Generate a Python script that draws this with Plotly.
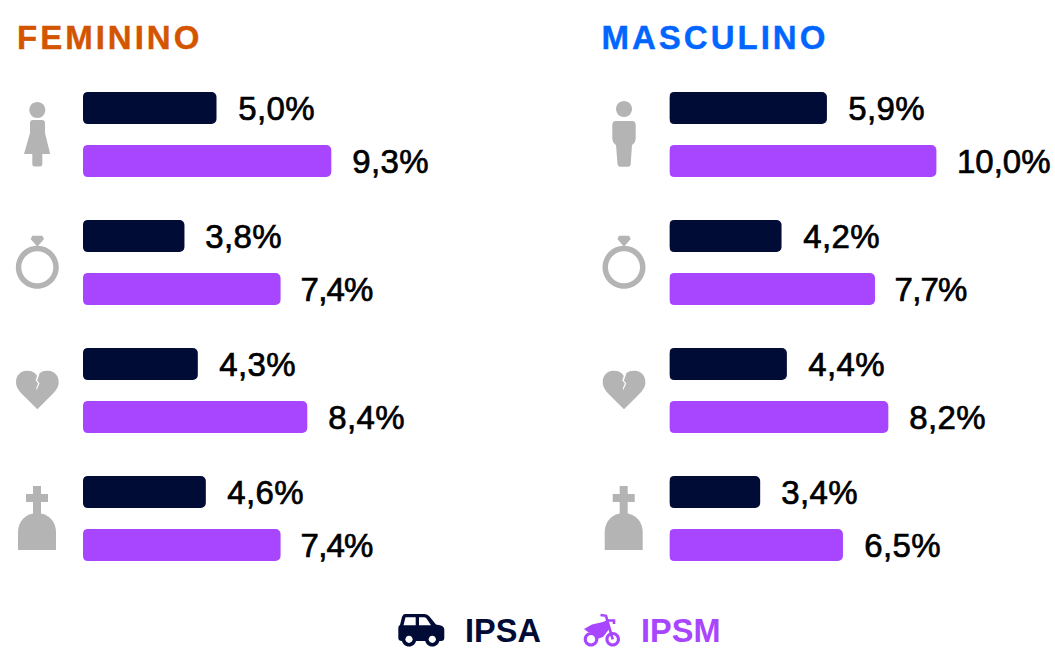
import re
import plotly.graph_objects as go

W, H = 1055, 649
categories = ["solteiro", "casado", "divorciado", "viuvo"]
fem_ipsa = [5.0, 3.8, 4.3, 4.6]
fem_ipsm = [9.3, 7.4, 8.4, 7.4]
masc_ipsa = [5.9, 4.2, 4.4, 3.4]
masc_ipsm = [10.0, 7.7, 8.2, 6.5]
panel_titles = ["FEMININO", "MASCULINO"]
series_names = ["IPSA", "IPSM"]

DARK = "#000B36"
PURPLE = "#A846FF"
GRAY = "#B4B4B4"
ORANGE = "#D45500"
BLUE = "#0066FF"
FONT = "Liberation Sans"

def fmt(v):
    return f"{v:.1f}".replace(".", ",") + "%"

def to_paper(path):
    toks = re.findall(r"-?\d+\.?\d*|[A-Za-z]", path)
    out, is_x = [], True
    for t in toks:
        if t.isalpha():
            out.append(t)
            is_x = True
        else:
            v = float(t)
            out.append(f"{v / W:.5f}" if is_x else f"{1 - v / H:.5f}")
            is_x = not is_x
    return " ".join(out)

def circle(cx, cy, r, ccw=False):
    k = 0.5523 * r
    if not ccw:
        return (f"M {cx+r} {cy} C {cx+r} {cy+k} {cx+k} {cy+r} {cx} {cy+r} "
                f"C {cx-k} {cy+r} {cx-r} {cy+k} {cx-r} {cy} "
                f"C {cx-r} {cy-k} {cx-k} {cy-r} {cx} {cy-r} "
                f"C {cx+k} {cy-r} {cx+r} {cy-k} {cx+r} {cy} Z ")
    return (f"M {cx+r} {cy} C {cx+r} {cy-k} {cx+k} {cy-r} {cx} {cy-r} "
            f"C {cx-k} {cy-r} {cx-r} {cy-k} {cx-r} {cy} "
            f"C {cx-r} {cy+k} {cx-k} {cy+r} {cx} {cy+r} "
            f"C {cx+k} {cy+r} {cx+r} {cy+k} {cx+r} {cy} Z ")

shapes = []
def add(path, fill=GRAY, stroke=None, sw=0):
    shapes.append(dict(type="path", xref="paper", yref="paper", path=to_paper(path),
                       fillcolor=fill, line=dict(color=stroke or fill, width=sw)))

def shifted(path, dx):
    toks = re.findall(r"-?\d+\.?\d*|[A-Za-z]", path)
    out, is_x = [], True
    for t in toks:
        if t.isalpha():
            out.append(t); is_x = True
        else:
            out.append(str(float(t) + dx) if is_x else t)
            is_x = not is_x
    return " ".join(out)

# woman
add(circle(37.3, 110, 8))
add("M 33 120 L 42 120 Q 45 120 45 123 L 45 133 L 50.2 154 L 42.3 154 L 42.3 164 "
    "Q 42.3 166.5 40 166.5 L 34.5 166.5 Q 32.3 166.5 32.3 164 L 32.3 154 L 24 154 "
    "L 30 133 L 30 123 Q 30 120 33 120 Z")
# man
add(circle(624, 109, 8))
add("M 616 121 L 632 121 Q 635.7 121 635.7 125 L 635.7 138 Q 635.7 143 632 145 L 630.7 164 "
    "Q 630.5 166.7 628 166.7 L 620 166.7 Q 617.7 166.7 617.5 164 L 616 145 "
    "Q 612.3 143 612.3 138 L 612.3 125 Q 612.3 121 616 121 Z")

ring = circle(37.3, 267.3, 21.5) + circle(37.3, 267.3, 16, ccw=True)
diamond = "M 32.3 235.7 L 42.3 235.7 L 44 239 L 37.3 246.7 L 30.7 239 Z"
heart = ("M 37.3 376 C 34 371 30 370.7 26.5 370.7 C 20 370.7 16 376 16 382 C 16 388 20 392 24 396 "
         "L 37.3 409.3 L 50.6 396 C 54.6 392 58.7 388 58.7 382 C 58.7 376 54.7 370.7 48 370.7 "
         "C 44.5 370.7 40.5 371 37.3 376 Z")
crack = ("M 37.6 374 L 35.6 380.5 L 38.2 383.5 L 36.2 388 L 37 390.5 L 37.4 388 L 39.6 383.4 "
         "L 37.2 380.4 L 39.6 373.5 Z")
cross = ("M 33 486 L 41 486 L 41 494 L 48 494 L 48 502 L 41 502 L 41 516 L 33 516 "
         "L 33 502 L 26 502 L 26 494 L 33 494 Z")
stone = "M 18 550 L 18 532 C 18 521 26 513.3 37 513.3 C 48 513.3 56 521 56 532 L 56 550 Z"
for dx in (0, 586.7):
    add(shifted(ring, dx))
    add(shifted(diamond, dx))
    add(shifted(heart, dx))
    add(shifted(crack, dx), fill="#FFFFFF")
    add(shifted(cross, dx))
    add(shifted(stone, dx))

# legend car
add("M 405 614 L 424 614 Q 427 614 429 616 L 436 624.5 L 441 625.5 Q 444.3 626.5 444.3 630 "
    "L 444.3 638 Q 444.3 641 441 641 L 402 641 Q 398.3 641 398.3 638 L 398.3 628 "
    "Q 398.3 625.5 400 625 L 402 617 Q 403 614 405 614 Z", fill=DARK)
add("M 405.5 617.3 L 415.7 617.3 L 415.7 625.3 L 403.5 625.3 Z", fill="#FFFFFF")
add("M 419 617.3 L 424 617.3 Q 425.5 617.3 426.5 618.5 L 431 625.3 L 419 625.3 Z", fill="#FFFFFF")
for cx in (409, 432.3):
    add(circle(cx, 639.3, 7.3), fill=DARK)
    add(circle(cx, 639.3, 3.6), fill="#FFFFFF")

# legend motorcycle
for cx in (591, 612.7):
    add(circle(cx, 639.3, 7.3) + circle(cx, 639.3, 4.2, ccw=True), fill=PURPLE)
add("M 584 629 L 592 624.5 L 603 622 L 607 620 L 610 628 L 603 637 L 597 639 Q 595 632 588 632 Z",
    fill=PURPLE)
shapes.append(dict(type="path", xref="paper", yref="paper", fillcolor="rgba(0,0,0,0)",
                   path=to_paper("M 600.5 615 L 606 615.8 L 612.7 639.3"),
                   line=dict(color=PURPLE, width=2.6)))
shapes.append(dict(type="path", xref="paper", yref="paper", fillcolor="rgba(0,0,0,0)",
                   path=to_paper("M 606 620.5 L 614 620.5 L 614 624"),
                   line=dict(color=PURPLE, width=2.6)))

fig = go.Figure()
PX_PER_UNIT = 26.7
RANGE_MAX = 12
for i, (x0, ipsa, ipsm, title, tcol, tx) in enumerate(
    [(83, fem_ipsa, fem_ipsm, panel_titles[0], ORANGE, 26.5),
     (669.4, masc_ipsa, masc_ipsm, panel_titles[1], BLUE, 612.5)]):
    xa = "x" if i == 0 else "x2"
    ya = "y" if i == 0 else "y2"
    for name, vals, col in ((series_names[0], ipsa, DARK), (series_names[1], ipsm, PURPLE)):
        fig.add_trace(go.Bar(y=categories, x=vals, orientation="h", name=name, xaxis=xa, yaxis=ya,
                             marker=dict(color=col, line=dict(width=0), cornerradius=5),
                             showlegend=False))
    key = "" if i == 0 else "2"
    fig.layout[f"xaxis{key}"] = dict(domain=[x0 / W, (x0 + PX_PER_UNIT * RANGE_MAX) / W],
                                     range=[0, RANGE_MAX], visible=False, anchor=ya)
    fig.layout[f"yaxis{key}"] = dict(domain=[1 - 582.5 / H, 1 - 70.5 / H],
                                     range=[3.5, -0.5], visible=False, anchor=xa,
                                     type="category", categoryorder="array",
                                     categoryarray=categories)
    for c, a, b in zip(categories, ipsa, ipsm):
        for v, ys in ((a, 26.5), (b, -26.5)):
            label = fmt(v)
            # glyph fitting: the reference face kerns "7," tightly
            xs = 16 if label.startswith("7") else (18.5 if label.startswith("10") else 20)
            fig.add_annotation(x=v, y=c, xref=xa, yref=ya, text=label, showarrow=False,
                               xanchor="left", yanchor="middle", xshift=xs, yshift=ys,
                               font=dict(family=FONT, size=33, color="#000000"))
    fig.add_annotation(x=tx / W, y=1 - 37 / H, xref="paper", yref="paper",
                       text=title, showarrow=False, xanchor="left", yanchor="middle",
                       font=dict(family=FONT, size=33, color=tcol, weight=700))
    # square off the unrounded base corners of each bar
    for top in (92, 145, 220, 273, 348, 401, 476, 529):
        add(f"M {x0-1} {top-1} L {x0+5} {top-1} L {x0+5} {top} Q {x0} {top} {x0} {top+5} L {x0-1} {top+5} Z",
            fill="#FFFFFF")
        b = top + 32
        add(f"M {x0-1} {b+1} L {x0+5} {b+1} L {x0+5} {b} Q {x0} {b} {x0} {b-5} L {x0-1} {b-5} Z",
            fill="#FFFFFF")

for name, px, col in ((series_names[0], 463, DARK), (series_names[1], 639, PURPLE)):
    fig.add_annotation(x=px / W, y=1 - 631 / H, xref="paper", yref="paper", text=name,
                       showarrow=False, xanchor="left", yanchor="middle",
                       font=dict(family=FONT, size=32.5, color=col, weight=700))

fig.update_layout(width=W, height=H, margin=dict(l=0, r=0, t=0, b=0),
                  paper_bgcolor="#FFFFFF", plot_bgcolor="rgba(0,0,0,0)",
                  barmode="group", bargap=0.172, bargroupgap=0.396, shapes=shapes)

post = """
document.body.style.margin = '0';
document.querySelectorAll('.annotation-text').forEach(function(t){
  var s = t.textContent;
  if (s === 'FEMININO' || s === 'MASCULINO') {
    t.style.letterSpacing = '3px';
    t.style.stroke = t.style.fill;
    t.style.strokeWidth = '0.4px';
  } else if (s.indexOf('%') >= 0) {
    t.style.stroke = t.style.fill;
    t.style.strokeWidth = '0.7px';
    if (s[0] === '7') { t.style.letterSpacing = '-0.8px'; }
    else if (s.indexOf('10') !== 0) { t.style.letterSpacing = '0.4px'; }
  }
});
"""
fig.write_html("out.html", post_script=post, config={"displayModeBar": False})
